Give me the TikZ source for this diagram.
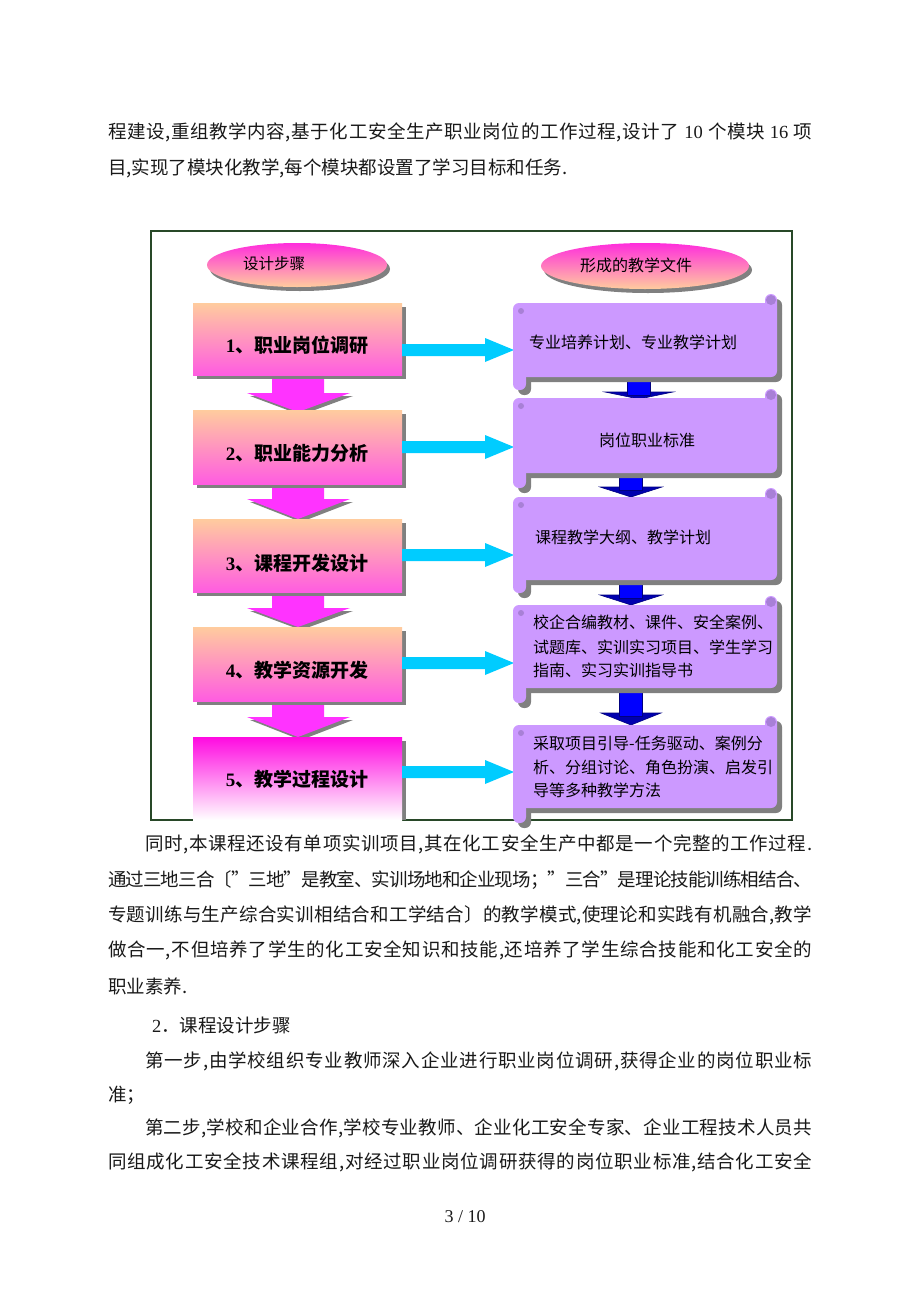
\documentclass[tikz,border=0pt]{standalone}
\usepackage{fontspec}
\setmainfont{Noto Sans CJK SC}
\newfontfamily\lat{Liberation Serif}
\usetikzlibrary{shapes.geometric}
\definecolor{peach}{RGB}{255,204,158}
\definecolor{pinkm}{RGB}{255,92,225}
\definecolor{magfive}{RGB}{255,10,225}
\definecolor{magmid}{RGB}{255,140,238}
\definecolor{magA}{RGB}{255,51,255}
\definecolor{cyanA}{RGB}{0,204,255}
\definecolor{lav}{RGB}{204,153,255}
\definecolor{lavdot}{RGB}{168,128,214}
\definecolor{shad}{RGB}{128,128,128}
\definecolor{navy}{RGB}{0,0,128}
\definecolor{headblue}{RGB}{0,0,175}
\definecolor{blueA}{RGB}{0,0,255}
\definecolor{framec}{RGB}{40,72,40}
\definecolor{txt}{RGB}{25,25,25}
\definecolor{ellT}{RGB}{255,45,220}

\def\spreadline#1#2{\hbox to #1pt{\spreadA#2\relax}}
\def\spreadA#1{{#1}\spreadB}
\def\spreadB#1{\ifx#1\relax\else\hskip 0pt plus 1fil minus 1.2pt{#1}\expandafter\spreadB\fi}
\def\numten{\lat\ 10\ }
\def\numsixteen{\lat\ 16\ }

\newcommand\scrollshape[4]{%
  \fill[#4,rounded corners=6pt] (513,#1) rectangle (777,#2);
  \fill[#4,rounded corners=6pt] (765,#1-9) rectangle (777,#1+12);
  \fill[#4,rounded corners=6pt] (513,#2-12) rectangle (526,#3);
}
\newcommand\scrollbox[3]{%
  \begin{scope}[shift={(5,5)}]\scrollshape{#1}{#2}{#3}{shad}\end{scope}
  \scrollshape{#1}{#2}{#3}{lav}
  \fill[lavdot] (771,#1-3) circle[radius=5pt];
  \fill[lavdot] (521,#1+8) circle[radius=3pt];
}

\begin{document}
\begin{tikzpicture}[x=1pt,y=-1pt,
  bodytext/.style={inner sep=0pt,anchor=west,font=\fontsize{18.5}{22}\selectfont,text=txt},
  boxtext/.style={inner sep=0pt,font=\fontsize{19}{22}\selectfont\bfseries,text=black},
  doctext/.style={inner sep=0pt,anchor=west,font=\fontsize{16}{20}\selectfont,text=black},
  elltext/.style={inner sep=0pt,font=\fontsize{15.5}{20}\selectfont,text=black}]

\useasboundingbox (0,0) rectangle (920,1302);
\fill[white] (0,0) rectangle (920,1302);

% ---------- body text ----------
\node[bodytext] (l1) at (108,132) {\spreadline{704}{程建设,重组教学内容,基于化工安全生产职业岗位的工作过程,设计了\numten 个模块\numsixteen 项}};
\node[bodytext] (l2) at (108,168) {目,实现了模块化教学,每个模块都设置了学习目标和任务.};
\node[bodytext] (l3) at (145,844) {\spreadline{667}{同时,本课程还设有单项实训项目,其在化工安全生产中都是一个完整的工作过程.}};
\node[bodytext] (l4) at (108,880) {\spreadline{704}{通过三地三合〔"三地"是教室、实训场地和企业现场；"三合"是理论技能训练相结合、}};
\node[bodytext] (l5) at (108,915) {\spreadline{704}{专题训练与生产综合实训相结合和工学结合〕的教学模式,使理论和实践有机融合,教学}};
\node[bodytext] (l6) at (108,950) {\spreadline{704}{做合一,不但培养了学生的化工安全知识和技能,还培养了学生综合技能和化工安全的}};
\node[bodytext] (l7) at (108,986) {职业素养.};
\node[bodytext] (l8) at (152,1025) {{\lat 2}．课程设计步骤};
\node[bodytext] (l9) at (145,1061) {\spreadline{667}{第一步,由学校组织专业教师深入企业进行职业岗位调研,获得企业的岗位职业标}};
\node[bodytext] (l10) at (108,1095) {准；};
\node[bodytext] (l11) at (145,1128) {\spreadline{667}{第二步,学校和企业合作,学校专业教师、企业化工安全专家、企业工程技术人员共}};
\node[bodytext] (l12) at (108,1162) {\spreadline{704}{同组成化工安全技术课程组,对经过职业岗位调研获得的岗位职业标准,结合化工安全}};
\node[inner sep=0pt,font=\lat\fontsize{18}{22}\selectfont,text=txt] (pg) at (465,1217) {3 / 10};

% ---------- frame ----------
\draw[framec,line width=1.3pt] (151,231) rectangle (792,820);

% ---------- ellipses ----------
\fill[shad] (300,269) ellipse [x radius=90pt,y radius=22pt];
\shade[top color=ellT,bottom color=peach] (297,265) ellipse [x radius=90pt,y radius=22pt];
\fill[shad] (648,270) ellipse [x radius=104pt,y radius=23pt];
\shade[top color=ellT,bottom color=peach] (645,266) ellipse [x radius=104pt,y radius=23pt];
\node[elltext] (e1) at (274,264) {设计步骤};
\node[elltext,font=\fontsize{16}{20}\selectfont] (e2) at (636,265) {形成的教学文件};

% ---------- magenta down arrows ----------
\foreach \a/\h/\p in {375/393/412,484/499/519,592/608/627,701/717/737}{
  \fill[shad] (250,\h+3) -- (353,\h+3) -- (301,\p+3) -- cycle;
  \fill[magA] (272,\a) -- (324,\a) -- (324,\h) -- (350,\h) -- (298,\p) -- (247,\h) -- (272,\h) -- cycle;
}

% ---------- left step boxes ----------
\foreach \t/\b in {303/375,410/484,519/592,627/701}{
  \fill[shad] (197,\t+4) rectangle (406,\b+4);
  \shade[top color=peach,bottom color=pinkm] (193,\t) rectangle (402,\b);
}
\fill[shad] (197,741) rectangle (406,820);
\shade[top color=magfive,middle color=magmid,bottom color=white] (193,737) rectangle (402,820);

% ---------- cyan right arrows ----------
\foreach \y in {350,447,555,663,772}{
  \fill[cyanA] (402,\y-6) -- (485,\y-6) -- (485,\y-12) -- (514,\y) -- (485,\y+12) -- (485,\y+6) -- (402,\y+6) -- cycle;
}

% ---------- blue down arrows ----------
\foreach \c/\a/\h/\p/\w in {639/377/392/399/34,631/473/487/497/31,631/580/595/605/31,631/688/713/725/30}{
  \fill[headblue,draw=navy,line width=0.6pt] (\c-\w,\h) -- (\c+\w,\h) -- (\c,\p) -- cycle;
  \fill[blueA,draw=navy,line width=0.8pt] (\c-11.5,\a) rectangle (\c+11.5,\h+3);
}

% ---------- scroll boxes ----------
\scrollbox{303}{377}{390}
\scrollbox{398}{473}{488}
\scrollbox{497}{580}{593}
\scrollbox{605}{688}{703}
\scrollbox{725}{808}{823}

% ---------- step texts ----------
\node[boxtext] (s1) at (297,345) {{\lat\bfseries 1}、职业岗位调研};
\node[boxtext] (s2) at (297,453) {{\lat\bfseries 2}、职业能力分析};
\node[boxtext] (s3) at (297,563) {{\lat\bfseries 3}、课程开发设计};
\node[boxtext] (s4) at (297,670) {{\lat\bfseries 4}、教学资源开发};
\node[boxtext] (s5) at (297,779) {{\lat\bfseries 5}、教学过程设计};

% ---------- document texts ----------
\node[doctext] (d1) at (529,342) {专业培养计划、专业教学计划};
\node[doctext,anchor=center] (d2) at (647,440) {岗位职业标准};
\node[doctext] (d3) at (535,537) {课程教学大纲、教学计划};
\node[doctext] (d4a) at (533,622) {校企合编教材、课件、安全案例、};
\node[doctext] (d4b) at (533,647) {试题库、实训实习项目、学生学习};
\node[doctext] (d4c) at (533,670) {指南、实习实训指导书};
\node[doctext] (d5a) at (533,743) {采取项目引导-任务驱动、案例分};
\node[doctext] (d5b) at (533,767) {析、分组讨论、角色扮演、启发引};
\node[doctext] (d5c) at (533,790) {导等多种教学方法};
\end{tikzpicture}
\end{document}
